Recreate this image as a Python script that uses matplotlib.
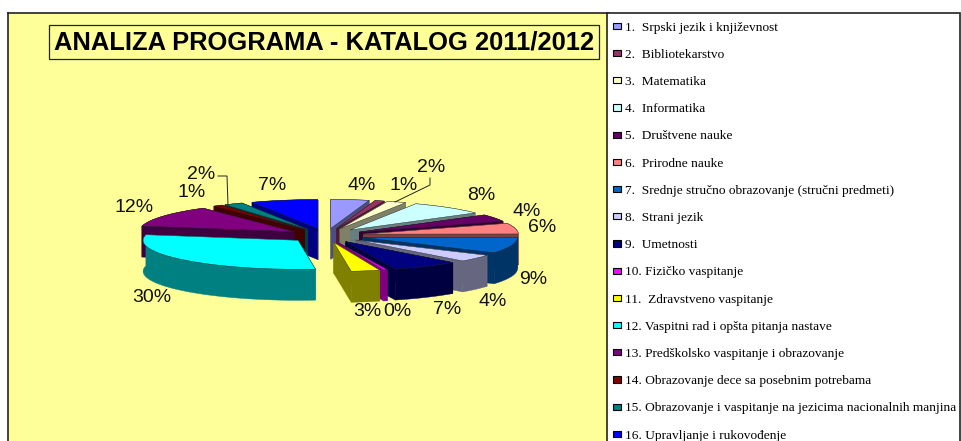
import matplotlib
matplotlib.use('Agg')
import matplotlib.pyplot as plt
import numpy as np
from matplotlib.colors import to_rgb
from matplotlib.lines import Line2D
from matplotlib.patches import Patch, Polygon, Rectangle

W, H = 961, 441

programs = [
    '1.  Srpski jezik i književnost',
    '2.  Bibliotekarstvo',
    '3.  Matematika',
    '4.  Informatika',
    '5.  Društvene nauke',
    '6.  Prirodne nauke',
    '7.  Srednje stručno obrazovanje (stručni predmeti)',
    '8.  Strani jezik',
    '9.  Umetnosti',
    '10. Fizičko vaspitanje',
    '11.  Zdravstveno vaspitanje',
    '12. Vaspitni rad i opšta pitanja nastave',
    '13. Predškolsko vaspitanje i obrazovanje',
    '14. Obrazovanje dece sa posebnim potrebama',
    '15. Obrazovanje i vaspitanje na jezicima nacionalnih manjina',
    '16. Upravljanje i rukovođenje',
]
shares = [4, 1, 2, 8, 4, 6, 9, 4, 7, 0.4, 3, 30, 12, 1, 2, 7]
colors = ['#9999FF', '#993366', '#FFFFCC', '#CCFFFF', '#660066', '#FF8080',
          '#0066CC', '#CCCCFF', '#000080', '#FF00FF', '#FFFF00', '#00FFFF',
          '#800080', '#800000', '#008080', '#0000FF']
label_pos = [(362, 185), (404, 185), (431, 167), (481, 195), (527, 211),
             (542, 228), (533, 280), (493, 301), (447, 309), (397, 312),
             (367, 312), (152, 298), (134, 208), (192, 192), (201, 175),
             (272, 186)]


def px(x, y):
    return x / W, 1 - y / H


def side_faces(wedge, depth):
    cx, cy = wedge.center
    a = np.radians(np.linspace(wedge.theta1, wedge.theta2, 40))
    xs = cx + wedge.r * np.cos(a)
    ys = cy + wedge.r * np.sin(a)
    faces = []
    faces.append([(cx, cy), (xs[0], ys[0]), (xs[0], ys[0] - depth), (cx, cy - depth)])
    faces.append([(cx, cy), (xs[-1], ys[-1]), (xs[-1], ys[-1] - depth), (cx, cy - depth)])
    faces.append(list(zip(xs, ys)) + list(zip(xs[::-1], ys[::-1] - depth)))
    return faces


fig = plt.figure(figsize=(W / 100, H / 100), dpi=100, facecolor='white')
ax = fig.add_axes([8 / W, -5 / H, 600 / W, (H - 8) / H])
ax.set_facecolor('#FFFF99')

wedges, _ = ax.pie(shares, colors=colors, startangle=90, counterclock=False,
                   explode=[0.245] * len(shares), radius=1,
                   wedgeprops={'edgecolor': '#222222', 'linewidth': 0.3})

# one data unit is 155 px across and 29 px down, centre at pixel (326, 235.5)
ax.set_aspect('auto')
ax.set_frame_on(True)
ax.set_xlim((8 - 326) / 155, (608 - 326) / 155)
ax.set_ylim((235.5 - H - 5) / 29, (235.5 - 13) / 29)
for s in ax.spines.values():
    s.set_color('#222222')
    s.set_linewidth(1.2)

# back slices first so the front ones cover them
order = sorted(range(len(wedges)), key=lambda i: -wedges[i].center[1])
for z, i in enumerate(order):
    w = wedges[i]
    w.set_zorder(3 * z + 4)
    dark = tuple(c * 0.5 for c in to_rgb(colors[i]))
    for face in side_faces(w, 31 / 29):
        ax.add_patch(Polygon(face, closed=True, facecolor=dark, edgecolor=dark,
                             linewidth=0.3, zorder=3 * z + 3))

# legend panel, its bottom edge runs off the picture
fig.add_artist(Rectangle(px(607, H + 5), 353 / W, (H - 8) / H, transform=fig.transFigure,
                         facecolor='white', edgecolor='#222222', linewidth=1.2))
handles = [Patch(facecolor=c, edgecolor='black', linewidth=0.8) for c in colors]
fig.legend(handles, programs, loc='upper left', bbox_to_anchor=px(606, 15),
           frameon=False, labelspacing=1.14, handlelength=0.6,
           handleheight=0.35, handletextpad=0.35, borderpad=0.5, borderaxespad=0,
           prop={'family': 'Liberation Serif', 'size': 9.6})

# title box
fig.text(*px(324, 42), 'ANALIZA PROGRAMA - KATALOG 2011/2012', family='Liberation Sans',
         fontweight='bold', fontsize=18.4, ha='center', va='center',
         bbox={'boxstyle': 'square,pad=0.18', 'facecolor': '#FFFF99',
               'edgecolor': '#222222', 'linewidth': 0.9})

for i, (x, y) in enumerate(label_pos):
    fig.text(*px(x, y), f'{round(shares[i])}%', family='Liberation Sans',
             fontsize=14, ha='center', va='center', color='#111111')

# leader lines
for xs, ys in [((430, 430, 395), (178, 185, 202)), ((218, 227, 228), (176, 176, 205))]:
    pts = [px(x, y) for x, y in zip(xs, ys)]
    fig.add_artist(Line2D([p[0] for p in pts], [p[1] for p in pts],
                          color='#222222', linewidth=0.7, zorder=50))

fig.savefig('out.png', dpi=100)
